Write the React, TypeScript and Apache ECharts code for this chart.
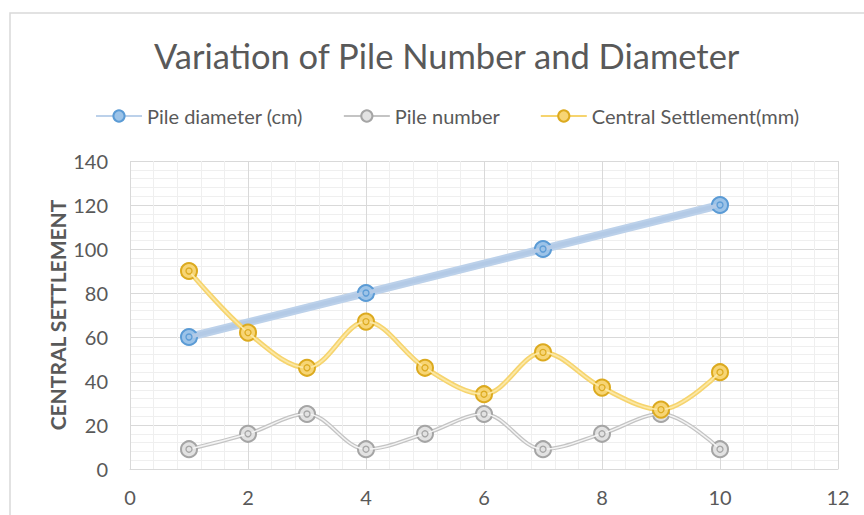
import React, { useEffect, useRef } from "react";
import * as echarts from "echarts";

const titleText = "Variation of Pile Number and Diameter";
const yAxisName = "CENTRAL SETTLEMENT";
const seriesNames = ["Pile diameter (cm)", "Pile number", "Central Settlement(mm)"];

const diameterX = [1, 4, 7, 10];
const diameterY = [60, 80, 100, 120];

const numberX = [1, 2, 3, 4, 5, 6, 7, 8, 9, 10];
const numberY = [9, 16, 25, 9, 16, 25, 9, 16, 25, 9];

const settlementX = [1, 2, 3, 4, 5, 6, 7, 8, 9, 10];
const settlementY = [90, 62, 46, 67, 46, 34, 53, 37, 27, 44];

const FONT = "Lato, 'Open Sans', sans-serif";
const TEXT = "#595959";

function pairs(xs: number[], ys: number[]) {
  return xs.map((x, i) => [x, ys[i]]);
}

export default function App() {
  const ref = useRef<HTMLDivElement>(null);
  useEffect(() => {
    document.body.style.margin = "0";
    if (!ref.current) return;
    const chart = echarts.init(ref.current, undefined, { renderer: "svg" });

    const mk = (
      name: string,
      data: number[][],
      smooth: boolean | number,
      outerLine: string,
      outerWidth: number,
      innerLine: string,
      innerWidth: number,
      ringColor: string,
      fillColor: string,
      z: number
    ) => [
      {
        name,
        type: "line",
        data,
        smooth,
        z,
        symbol: "circle",
        symbolSize: 16,
        showAllSymbol: true,
        lineStyle: { color: outerLine, width: outerWidth },
        itemStyle: { color: fillColor, borderColor: ringColor, borderWidth: 2 },
      },
      {
        name: name + "__inner",
        type: "line",
        data,
        smooth,
        z: z + 1,
        symbol: "circle",
        symbolSize: 6,
        lineStyle: { color: innerLine, width: innerWidth },
        itemStyle: { color: fillColor, borderColor: ringColor, borderWidth: 1.3 },
        silent: true,
      },
    ];

    chart.setOption({
      animation: false,
      backgroundColor: "#ffffff",
      title: {
        text: titleText,
        left: 149,
        top: 33,
        textStyle: { fontFamily: FONT, fontSize: 34.5, fontWeight: "normal", color: TEXT },
      },
      legend: {
        data: seriesNames,
        top: 101,
        left: 90,
        itemGap: 40,
        itemWidth: 46,
        itemHeight: 14,
        textStyle: { fontFamily: FONT, fontSize: 20, color: TEXT },
      },
      grid: { left: 130, right: 26, top: 161, bottom: 46, containLabel: false },
      xAxis: {
        type: "value",
        min: 0,
        max: 12,
        interval: 2,
        axisLine: { show: true, lineStyle: { color: "#d9d9d9" } },
        axisTick: { show: false },
        axisLabel: { fontFamily: FONT, fontSize: 20, color: TEXT, margin: 18 },
        splitLine: { show: true, lineStyle: { color: "#d9d9d9" } },
        minorTick: { show: false, splitNumber: 5 },
        minorSplitLine: { show: true, lineStyle: { color: "#efefef" } },
      },
      yAxis: {
        type: "value",
        min: 0,
        max: 140,
        interval: 20,
        name: yAxisName,
        nameLocation: "middle",
        nameGap: 62,
        nameMoveOverlap: false,
        nameTextStyle: { fontFamily: FONT, fontSize: 21, fontWeight: "bold", color: TEXT },
        axisLine: { show: false },
        axisTick: { show: false },
        axisLabel: { fontFamily: FONT, fontSize: 20, color: TEXT, margin: 22 },
        splitLine: { show: true, lineStyle: { color: "#d9d9d9" } },
        minorTick: { show: false, splitNumber: 5 },
        minorSplitLine: { show: true, lineStyle: { color: "#efefef" } },
      },
      graphic: [
        {
          type: "rect",
          shape: { x: 10, y: 13, width: 880, height: 540 },
          style: { fill: "none", stroke: "#d9d9d9", lineWidth: 1.5 },
          silent: true,
        },
      ],
      series: [
        ...mk(seriesNames[0], pairs(diameterX, diameterY), false, "#bcd1ea", 8, "#b3cae6", 4, "#5b9bd5", "#9cc3e8", 2),
        ...mk(seriesNames[1], pairs(numberX, numberY), 0.35, "#c4c4c4", 4, "#f4f4f4", 1.5, "#a5a5a5", "#e2e2e2", 4),
        ...mk(seriesNames[2], pairs(settlementX, settlementY), 0.35, "#f6d46e", 5, "#fbe8a6", 1.8, "#dcaa1f", "#f7d575", 6),
      ],
    });
    return () => chart.dispose();
  }, []);
  return <div ref={ref} style={{ width: 864, height: 515 }} />;
}
